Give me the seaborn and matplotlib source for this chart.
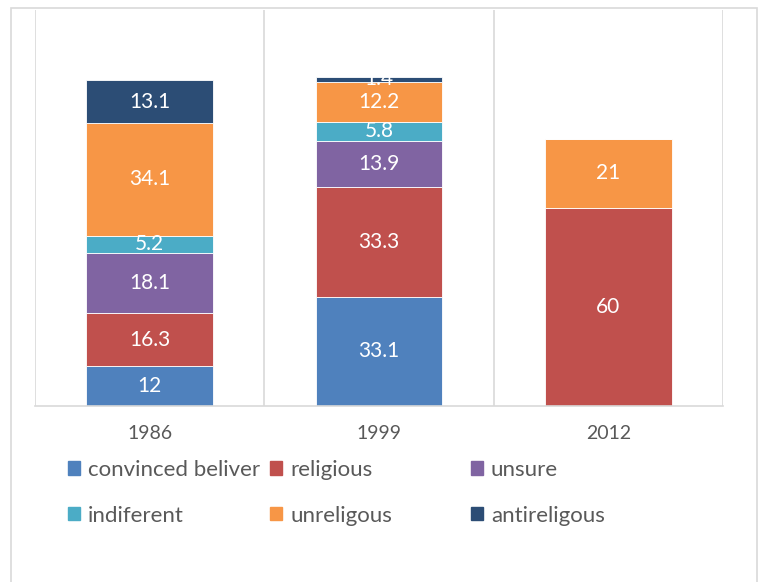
import numpy as np
import pandas as pd
import matplotlib
matplotlib.use('Agg')
import matplotlib.pyplot as plt
from matplotlib.patches import Patch, Rectangle
import seaborn as sns

'''
Dados do grafico
'''
years = ['1986', '1999', '2012']
series_names = ['convinced beliver', 'religious', 'unsure', 'indiferent', 'unreligous', 'antireligous']
convinced = [12, 33.1, 0]
religious = [16.3, 33.3, 60]
unsure = [18.1, 13.9, 0]
indiferent = [5.2, 5.8, 0]
unreligous = [34.1, 12.2, 21]
antireligous = [13.1, 1.4, 0]

colors = ['#4F81BD', '#C0504D', '#8064A2', '#4BACC6', '#F79646', '#2C4D75']

values = [convinced, religious, unsure, indiferent, unreligous, antireligous]
df = pd.DataFrame({'year': np.repeat(years, len(series_names)),
                   'serie': series_names * len(years),
                   'valor': np.array(values).T.ravel()})

sns.set_theme(style='white')
plt.rcParams['font.family'] = ['Lato', 'DejaVu Sans']

fig = plt.figure(figsize=(7.61, 5.82), dpi=100)
ax = fig.add_axes([35 / 761, 176 / 582, 688 / 761, 396 / 582])

# Barras empilhadas
bottom = np.zeros(len(years))
for name, color in zip(series_names, colors):
    sub = df[df['serie'] == name]
    sns.barplot(data=sub, x='year', y='valor', color=color, width=0.553,
                bottom=bottom, ax=ax, saturation=1, errorbar=None,
                edgecolor='white', linewidth=0.6)
    bottom = bottom + sub['valor'].values

for cont in ax.containers:
    labels = [('%g' % b.get_height()) if b.get_height() > 0 else '' for b in cont]
    ax.bar_label(cont, labels=labels, label_type='center', color='white', fontsize=15)

# Grade vertical entre categorias
for x in [-0.5, 0.5, 1.5, 2.5]:
    ax.axvline(x, color='#D9D9D9', lw=1.2, zorder=0)
ax.set_xlim(-0.5, 2.5)
ax.set_ylim(0, 120)
ax.set_yticks([])
ax.set_xlabel('')
ax.set_ylabel('')
for s in ['top', 'left', 'right']:
    ax.spines[s].set_visible(False)
ax.spines['bottom'].set_color('#D9D9D9')
ax.spines['bottom'].set_linewidth(1.2)
ax.tick_params(axis='x', length=0, pad=14, labelsize=14, labelcolor='#595959')

# Borda externa
fig.patches.append(Rectangle((11 / 761, -0.02), 746 / 761, (582 - 8) / 582 + 0.02,
                             transform=fig.transFigure, fill=False,
                             edgecolor='#D9D9D9', lw=1.2))

# Legenda em tres colunas
col_x = [68 / 761, 270 / 761, 471 / 761]
for i in range(3):
    handles = [Patch(color=colors[i]), Patch(color=colors[i + 3])]
    labs = [series_names[i], series_names[i + 3]]
    fig.legend(handles, labs, loc='upper left', bbox_to_anchor=(col_x[i], 1 - 460 / 582),
               frameon=False, fontsize=16, handlelength=0.55, handleheight=0.55,
               handletextpad=0.35, labelspacing=1.15, labelcolor='#595959',
               borderaxespad=0, borderpad=0)

fig.savefig('out.png', dpi=100)
